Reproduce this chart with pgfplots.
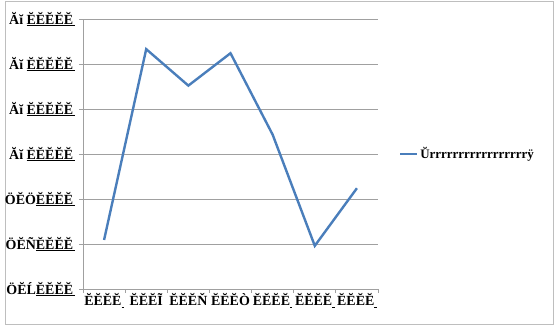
\documentclass[border=0pt]{standalone}
\usepackage{pgfplots}
\pgfplotsset{compat=1.18}
\usepackage{fontspec}
\setmainfont{Liberation Serif}
\definecolor{serieblue}{RGB}{74,126,187}
\definecolor{gridgray}{RGB}{160,160,160}
\definecolor{framegray}{RGB}{190,190,190}
\begin{document}
\begin{tikzpicture}[x=1bp,y=1bp]
\path[use as bounding box] (0,0) rectangle (558,332);
\draw[framegray, line width=0.8bp] (5,8) rectangle (553,331);
\begin{axis}[
  at={(83bp,43bp)}, anchor=south west,
  scale only axis, width=295bp, height=270bp,
  xmin=0.5, xmax=7.5, ymin=0, ymax=6,
  axis x line*=bottom, axis y line*=left,
  axis line style={gridgray, line width=0.8bp},
  xtick={0.5,1.5,...,7.5}, xticklabels={},
  x tick style={gridgray, line width=0.8bp},
  major tick length=4bp,
  tick align=outside,
  extra x ticks={1,2,3,4,5,6,7},
  extra x tick labels={ĔĔĔĔ\underline{\,},ĔĔĔĨ,ĔĔĔŇ,ĔĔĔÒ,ĔĔĔĔ\underline{\,},ĔĔĔĔ\underline{\,},ĔĔĔĔ\underline{\,}},
  extra x tick style={major tick length=0pt, grid=none},
  ytick={0,1,...,6},
  yticklabels={ÖĔĹ\underline{ĔĔĔĔ\,},ÖĔÑ\underline{ĔĔĔĔ\,},ÖĔÖ\underline{ĔĔĔĔ\,},Ăĭ \underline{ĔĔĔĔĔ\,},Ăĭ \underline{ĔĔĔĔĔ\,},Ăĭ \underline{ĔĔĔĔĔ\,},Ăĭ \underline{ĔĔĔĔĔ\,}},
  y tick style={gridgray, line width=0.8bp},
  ymajorgrids, grid style={gridgray, line width=0.8bp},
  tick label style={font=\fontsize{14}{14}\selectfont\bfseries},
  xticklabel style={yshift=-1bp},
  yticklabel style={xshift=0bp},
  legend style={at={(1.06,0.5)}, anchor=west, draw=none, fill=none, font=\fontsize{13}{13}\selectfont\bfseries},
  legend cell align=left,
  legend image post style={line width=2.4bp},
]
\addplot[serieblue, line width=2.4bp] coordinates {
(1,1.09) (2,5.33) (3,4.52) (4,5.24) (5,3.43) (6,0.96) (7,2.24)
};
\addlegendentry{Ŭrrrrrrrrrrrrrrrrrÿ}
\end{axis}
\end{tikzpicture}
\end{document}
